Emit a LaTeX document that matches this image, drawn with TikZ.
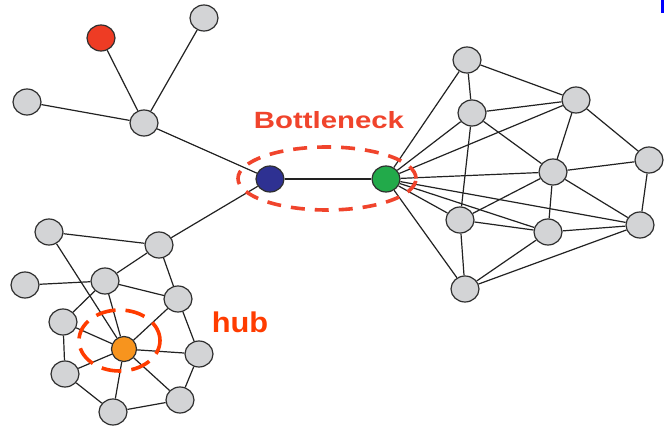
\documentclass[tikz,border=0pt]{standalone}
\usepackage{fontspec}
\setmainfont{Liberation Sans}
\usetikzlibrary{shapes.geometric,backgrounds}
\definecolor{nodegray}{HTML}{D3D4D6}
\definecolor{rimgray}{HTML}{2F2F2F}
\definecolor{edgeink}{HTML}{222222}
\definecolor{hotred}{HTML}{EE3C24}
\definecolor{navy}{HTML}{2E3192}
\definecolor{leaf}{HTML}{22AA4A}
\definecolor{amber}{HTML}{F7941E}
\definecolor{markred}{HTML}{F0442C}
\definecolor{hubred}{HTML}{FF3C00}
\tikzset{
  vtx/.style={ellipse, draw=rimgray, line width=1.2pt, fill=nodegray,
              minimum width=28pt, minimum height=26pt, inner sep=0pt},
  hubvtx/.style={vtx, fill=amber, minimum width=25pt, minimum height=25pt},
  link/.style={draw=edgeink, line width=1.2pt},
  ring/.style={ellipse, draw=#1, line width=3.6pt, dash pattern=on 14pt off 10pt,
               inner sep=0pt},
  lbl/.style={font=\bfseries, inner sep=0pt, anchor=base}
}
\begin{document}
\begin{tikzpicture}[x=1pt,y=-1pt]
\useasboundingbox (0,0) rectangle (664,430);

% upper-left star
\node[vtx, fill=hotred] (red) at (101,38) {};
\node[vtx] (tp) at (204,18) {};
\node[vtx] (lf) at (27,102) {};
\node[vtx] (ct) at (144,123) {};

% bridge pair
\node[vtx, fill=navy] (bl) at (270,179) {};
\node[vtx, fill=leaf] (gr) at (386,179) {};

% right cluster
\node[vtx] (r1) at (467,60) {};
\node[vtx] (r2) at (472,113) {};
\node[vtx] (r3) at (576,100) {};
\node[vtx] (r4) at (553,172) {};
\node[vtx] (r5) at (649,160) {};
\node[vtx] (r6) at (460,220) {};
\node[vtx] (r7) at (548,232) {};
\node[vtx] (r8) at (640,225) {};
\node[vtx] (r9) at (465,289) {};

% lower-left cluster
\node[vtx] (l1) at (49,232) {};
\node[vtx] (l2) at (159,245) {};
\node[vtx] (l3) at (25,285) {};
\node[vtx] (l4) at (105,281) {};
\node[vtx] (l5) at (178,299) {};
\node[vtx] (l6) at (63,322) {};
\node[hubvtx] (hb) at (124,349) {};
\node[vtx] (l7) at (199,354) {};
\node[vtx] (l8) at (65,374) {};
\node[vtx] (l9) at (180,400) {};
\node[vtx] (l10) at (113,412) {};

\begin{pgfonlayer}{background}
\fill[white] (0,0) rectangle (664,430);
\foreach \a/\b in {red/ct, tp/ct, lf/ct, ct/bl, bl/gr, bl/l2,
  gr/r1, gr/r2, gr/r3, gr/r4, gr/r6, gr/r7, gr/r8, gr/r9,
  r1/r2, r1/r3, r2/r3, r2/r4, r2/r6, r3/r4, r3/r5, r4/r5, r4/r6,
  r4/r7, r4/r8, r5/r8, r6/r7, r6/r9, r7/r8, r7/r9, r8/r9,
  l1/l2, l1/hb, l2/l4, l2/l5, l3/l4, l4/l5, l4/l6, l4/hb, l5/hb,
  l5/l7, l6/hb, l6/l8, hb/l7, hb/l8, hb/l10, hb/l9, l7/l9, l8/l10, l10/l9}
  \draw[link] (\a) -- (\b);
\end{pgfonlayer}

% highlight rings and their labels
\node[ring=markred, minimum width=178pt, minimum height=63pt] (neck) at (327,178.5) {};
\node[ring=hubred, minimum width=81pt, minimum height=61pt, dash pattern=on 20pt off 10pt] (hubring) at (119.5,340.5) {};
\node[lbl, text=markred, font=\bfseries\fontsize{23.5}{25}\selectfont, xscale=1.25] (necktext) at (329,129) {Bottleneck};
\node[lbl, text=hubred, font=\bfseries\fontsize{28.5}{30}\selectfont, xscale=1.08] (hubtext) at (240,333) {hub};

% corner marker
\fill[blue] (661,0) rectangle (664,13);
\end{tikzpicture}
\end{document}
